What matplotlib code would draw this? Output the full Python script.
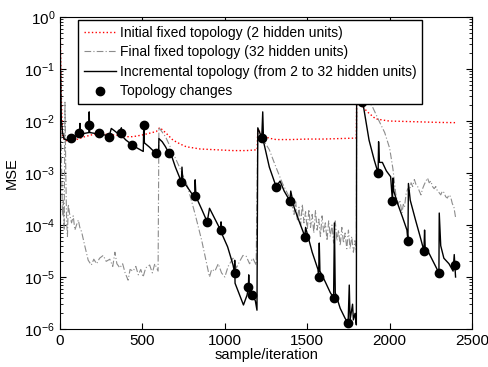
import numpy as np
import matplotlib
matplotlib.use("Agg")
import matplotlib.pyplot as plt

plt.rcParams['font.family'] = ['Liberation Sans', 'DejaVu Sans']
plt.rcParams['mathtext.fontset'] = 'custom'
plt.rcParams['mathtext.rm'] = 'Liberation Sans'

# initial fixed topology (2 hidden units)
t_init = [0, 8, 15, 30, 60, 100, 150, 200, 250, 300, 350, 400, 443, 500, 550, 585,
          605, 640, 685, 730, 766, 850, 948, 1050, 1130, 1196, 1200, 1215, 1240, 1280,
          1311, 1400, 1500, 1600, 1700, 1798, 1800, 1830, 1865, 1915, 1996, 2100, 2200,
          2300, 2400]
mse_init = [1.0, 3e-2, 5e-3, 4.2e-3, 4.2e-3, 4.4e-3, 5.0e-3, 5.5e-3, 5.6e-3, 5.5e-3,
            5.3e-3, 5.0e-3, 5.0e-3, 5.4e-3, 5.9e-3, 6.3e-3, 7.5e-3, 6.0e-3, 4.3e-3,
            3.6e-3, 3.2e-3, 2.9e-3, 2.8e-3, 2.7e-3, 2.7e-3, 2.8e-3, 7.0e-3, 6.0e-3,
            5.0e-3, 4.6e-3, 4.4e-3, 4.4e-3, 4.5e-3, 4.5e-3, 4.6e-3, 4.7e-3, 3e-2,
            2.0e-2, 1.5e-2, 1.1e-2, 1.0e-2, 9.8e-3, 9.6e-3, 9.4e-3, 9.3e-3]

# final fixed topology (32 hidden units)
t_final = [0, 5, 10, 15, 20, 25, 30, 35, 40, 45, 50, 60, 70, 80, 90, 100, 111, 120, 131,
           150, 171, 190, 205, 222, 240, 262, 280, 302, 320, 333, 345, 363, 380, 395,
           413, 425, 443, 460, 475, 490, 504, 520, 544, 560, 575, 595,
           600, 640, 677, 720, 775, 820, 860, 890, 907, 920, 940, 960, 980, 1000, 1020,
           1050, 1070, 1090, 1110, 1130, 1150, 1170, 1190,
           1200, 1230, 1270, 1310, 1350, 1390, 1410, 1420, 1430, 1440, 1450, 1460, 1470,
           1480, 1490, 1500, 1510, 1520, 1530, 1540, 1550, 1560, 1570, 1580, 1590, 1600,
           1610, 1620, 1630, 1640, 1650, 1660, 1670, 1680, 1690, 1700, 1710, 1720, 1730,
           1740, 1750, 1760, 1770, 1780, 1790, 1798,
           1800, 1850, 1895, 1936, 1970, 2000, 2020, 2037, 2050, 2062, 2075, 2083, 2090,
           2100, 2110, 2120, 2130, 2140, 2150, 2160, 2170, 2180, 2190, 2200, 2210, 2220,
           2230, 2240, 2250, 2260, 2270, 2280, 2290, 2300, 2310, 2320, 2330, 2340, 2350,
           2360, 2370, 2380, 2390, 2400]
mse_final = [0.8, 1e-2, 1e-3, 1.5e-4, 3e-4, 8e-5, 2.3e-2, 1e-3, 1.2e-4, 6e-5, 2.5e-4,
             1.5e-4, 1.1e-4, 1.5e-4, 8e-5, 1e-4, 1.25e-4, 9e-5, 7.4e-5, 4e-5, 2.1e-5,
             1.7e-5, 2.2e-5, 1.8e-5, 2.3e-5, 2.6e-5, 2.0e-5, 2.2e-5, 1.6e-5, 3e-5, 1.8e-5,
             1.5e-5, 1.8e-5, 1.2e-5, 8.7e-6, 1.4e-5, 1.3e-5, 1.6e-5, 1.1e-5, 1.4e-5, 1e-5,
             1.5e-5, 1.7e-5, 1.2e-5, 1.8e-5, 1.3e-5,
             7.5e-3, 5e-3, 2.8e-3, 1.4e-3, 5.4e-4, 1.6e-4, 5e-5, 1.8e-5, 1e-5, 1.4e-5,
             1.3e-5, 1.8e-5, 1.2e-5, 1e-5, 1.6e-5, 2.3e-5, 1.5e-5, 2e-5, 2.6e-5, 2.5e-5,
             1.8e-5, 2.3e-5, 1.7e-5,
             6.5e-3, 4.5e-3, 2.8e-3, 1.3e-3, 6.3e-4, 3.5e-4, 2.2e-4, 1.6e-4, 2.8e-4,
             1.2e-4, 2.2e-4, 1.0e-4, 2.5e-4, 1.1e-4, 1.8e-4, 8e-5, 2.0e-4, 9e-5, 1.6e-4,
             7e-5, 1.9e-4, 8e-5, 1.3e-4, 6e-5, 1.5e-4, 7e-5, 1.1e-4, 5e-5, 1.2e-4, 6e-5,
             1.0e-4, 4.5e-5, 1.2e-4, 5e-5, 8e-5, 4e-5, 9e-5, 4.5e-5, 7e-5, 3.5e-5, 8e-5,
             3.5e-5, 6e-5, 3e-5, 5e-5, 3e-5,
             5e-2, 3e-2, 1.9e-2, 1e-2, 6e-3, 3e-3, 1.2e-3, 4e-4, 2.5e-4, 3e-4, 1.7e-4,
             2.5e-4, 2.2e-4, 4e-4, 5e-4, 4.5e-4, 6.5e-4, 5.5e-4, 7.5e-4, 6e-4, 5.5e-4,
             4.5e-4, 3.8e-4, 5e-4, 6e-4, 7e-4, 8e-4, 6.5e-4, 7e-4, 5.5e-4, 5e-4, 5.5e-4,
             4.5e-4, 4.2e-4, 3.8e-4, 4.5e-4, 4.2e-4, 3.5e-4, 3.3e-4, 3.8e-4, 3.5e-4,
             2.6e-4, 2.2e-4, 1.4e-4]

# incremental topology (from 2 to 32 hidden units)
t_incr = [0, 3, 8, 15, 25, 45, 66, 90, 117, 121, 124, 150, 175, 177, 180, 210, 238, 270,
          298, 311, 330, 355, 369, 372, 375, 400, 437, 470, 505, 508, 512, 540, 581, 590,
          598, 600, 620, 640, 661, 680, 700, 736, 740, 745, 770, 800, 817, 820, 825, 860,
          893, 907, 940, 974, 977, 980, 1017, 1050, 1059, 1060, 1062, 1079, 1113, 1135,
          1143, 1145, 1148, 1165, 1185, 1195,
          1200, 1224, 1230, 1235, 1270, 1311, 1335, 1360, 1395, 1400, 1420, 1450, 1486,
          1490, 1530, 1565, 1569, 1573, 1577, 1610, 1640, 1660, 1665, 1670, 1700, 1730,
          1748, 1755, 1760, 1775, 1780, 1790, 1798,
          1800, 1835, 1875, 1906, 1930, 1933, 1938, 1956, 1980, 2006, 2017, 2020, 2025,
          2050, 2077, 2105, 2111, 2114, 2125, 2157, 2185, 2208, 2212, 2216, 2238, 2279,
          2299, 2301, 2310, 2329, 2360, 2385, 2392, 2396, 2400]
mse_incr = [0.9, 0.1, 1e-2, 6e-3, 4.5e-3, 4.3e-3, 4.6e-3, 5.0e-3, 5.5e-3, 9e-3, 5.6e-3,
            5.8e-3, 6e-3, 1.5e-2, 6e-3, 5.8e-3, 5.6e-3, 5.4e-3, 5e-3, 7.2e-3, 6.5e-3,
            5.6e-3, 5.8e-3, 7.4e-3, 5.2e-3, 4.3e-3, 3.5e-3, 3e-3, 2.6e-3, 8.4e-3, 3.8e-3,
            3.2e-3, 2.4e-3, 2.3e-3, 2.2e-3, 4.6e-3, 4e-3, 3.2e-3, 2.4e-3, 2e-3, 1.3e-3,
            6.8e-4, 1.3e-3, 7e-4, 5.5e-4, 4e-4, 3.6e-4, 7.4e-4, 3.5e-4, 2e-4, 1.15e-4,
            2.1e-4, 1.3e-4, 8e-5, 1.15e-4, 7e-5, 3.8e-5, 1.7e-5, 1.2e-5, 2.1e-5, 7.6e-6,
            5.5e-6, 2.9e-6, 4.5e-6, 6.3e-6, 1.1e-5, 5e-6, 4.5e-6, 3.5e-6, 2.3e-6,
            7.4e-3, 4.8e-3, 1.5e-2, 4e-3, 1.3e-3, 5.5e-4, 7e-4, 4.5e-4, 2.9e-4, 4.5e-4,
            2.2e-4, 1.2e-4, 6e-5, 9e-5, 3e-5, 1.4e-5, 1e-5, 4.5e-5, 1.3e-5, 8e-6, 5e-6,
            4e-6, 1.1e-4, 5e-6, 2.5e-6, 1.6e-6, 1.3e-6, 7e-6, 1.5e-6, 3e-6, 1.5e-6, 2e-6,
            1.2e-6,
            0.1, 2.5e-2, 4.3e-3, 1.8e-3, 1e-3, 4e-3, 1.6e-3, 1.6e-3, 1.1e-3, 8.5e-4,
            2.9e-4, 8e-4, 4.5e-4, 2.5e-4, 1.45e-4, 8e-5, 4.9e-5, 6.3e-4, 3e-4, 1.25e-4,
            6e-5, 3.2e-5, 8e-5, 3.5e-5, 2.9e-5, 1.6e-5, 1.2e-5, 1.7e-4, 4e-5, 2.3e-5,
            1.8e-5, 1.3e-5, 2.7e-5, 1.7e-5, 1e-5]

# topology changes
t_changes = [66, 117, 175, 238, 298, 369, 437, 508, 581, 661, 736, 817, 893, 974, 1059,
             1143, 1165, 1224, 1311, 1395, 1486, 1569, 1660, 1748, 1835, 1930, 2017, 2111,
             2208, 2299, 2398]
mse_changes = [4.8e-3, 5.8e-3, 8.4e-3, 5.8e-3, 5e-3, 5.8e-3, 3.5e-3, 8.4e-3, 2.4e-3,
               2.4e-3, 6.8e-4, 3.6e-4, 1.15e-4, 8e-5, 1.2e-5, 6.3e-6, 4.5e-6, 4.8e-3,
               5.5e-4, 2.9e-4, 6e-5, 1e-5, 4e-6, 1.3e-6, 2.3e-2, 1e-3, 2.9e-4, 4.9e-5,
               3.2e-5, 1.2e-5, 1.7e-5]

fig = plt.figure(figsize=(4.88, 3.67), dpi=100)
ax = fig.add_axes([0.123, 0.1035, 0.8443, 0.8501])

ax.semilogy(t_init, mse_init, ':', color='red', lw=1.0,
            label='Initial fixed topology (2 hidden units)')
ax.semilogy(t_final, mse_final, color='0.55', lw=0.8, dashes=(6, 2, 1, 2),
            label='Final fixed topology (32 hidden units)')
ax.semilogy(t_incr, mse_incr, '-', color='black', lw=1.0,
            label='Incremental topology (from 2 to 32 hidden units)')
ax.semilogy(t_changes, mse_changes, 'o', color='black', ms=6, zorder=3,
            label='Topology changes')

ax.set_xlim(0, 2500)
ax.set_ylim(1e-6, 1)
ax.set_xticks([0, 500, 1000, 1500, 2000, 2500])
ax.tick_params(which='both', direction='in', top=True, right=True, labelsize=11)
ax.tick_params(which='major', length=4)
ax.tick_params(which='minor', length=2)
ax.set_xlabel('sample/iteration', fontsize=10.5, labelpad=0)
ax.set_ylabel('MSE', fontsize=10.5)

leg = ax.legend(loc='upper left', bbox_to_anchor=(0.044, 0.99), borderaxespad=0,
                fancybox=False, framealpha=1, edgecolor='black', fontsize=10,
                handlelength=2.3, handletextpad=0.3, labelspacing=0.4)
leg.get_frame().set_linewidth(1.0)

fig.savefig('out.png', dpi=100)
